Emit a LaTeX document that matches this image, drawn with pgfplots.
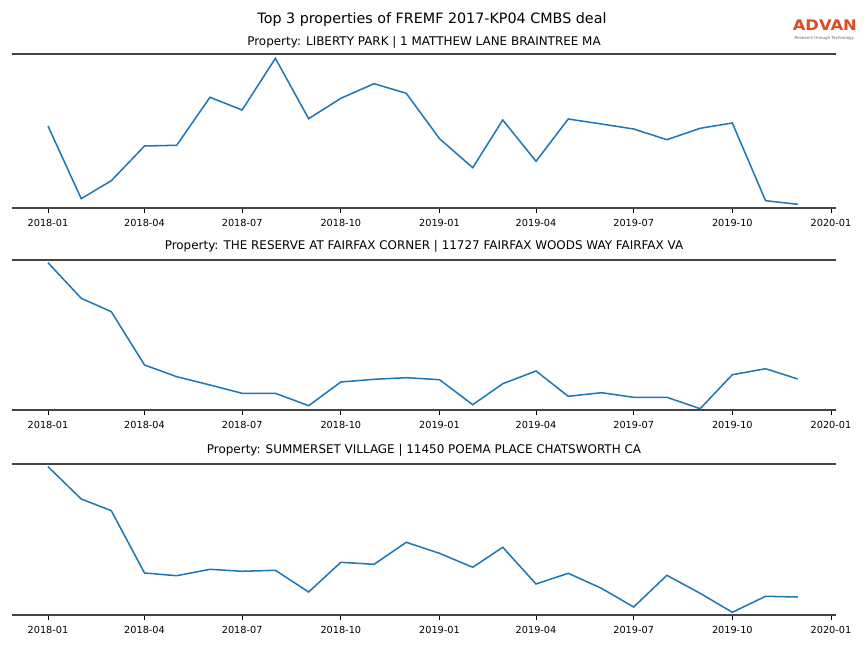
\documentclass[border=0pt]{standalone}
\usepackage{pgfplots}
\pgfplotsset{compat=1.18}
\usepackage{fontspec}
\setmainfont{DejaVu Sans}
\definecolor{mplblue}{HTML}{1F77B4}
\definecolor{spine}{HTML}{444444}
\definecolor{advan}{HTML}{E04A22}

% one pixel of the reference = 0.72pt
\pgfplotsset{
  panel/.style={
    scale only axis,
    width=593.28pt,
    xmin=-33.56, xmax=734.66,
    axis x line*=bottom,
    axis y line=none,
    x axis line style={draw=spine, line width=1.3pt},
    xtick={0,90,181,273,365,455,546,638,730},
    xticklabels={2018-01,2018-04,2018-07,2018-10,2019-01,2019-04,2019-07,2019-10,2020-01},
    tick align=outside,
    major tick length=3.5pt,
    xtick style={draw=black, line width=0.6pt},
    ticklabel style={font=\fontsize{7}{8}\selectfont},
    xticklabel style={yshift=-1pt},
    clip=false,
  },
}
\tikzset{spinetop/.style={draw=spine, line width=1.3pt}}

\begin{document}
\begin{tikzpicture}
\useasboundingbox (0,0) rectangle (622.08pt,466.56pt);

\node[font=\fontsize{10.3}{12}\selectfont] at (311.04pt,452.16pt) {Top 3 properties of FREMF 2017-KP04 CMBS deal};

\node[font=\fontsize{10.5}{12}\selectfont\bfseries, text=advan, inner sep=0pt, xscale=1.12] at (593.9pt,448.2pt) {ADVAN};
\node[font=\fontsize{2.9}{3}\selectfont, text=black!60, inner sep=0pt] at (593.6pt,438.6pt) {Research through Technology};

\node[font=\fontsize{8.6}{10}\selectfont] at (305.28pt,436.32pt) {Property: LIBERTY PARK | 1 MATTHEW LANE BRAINTREE MA};
\node[font=\fontsize{8.6}{10}\selectfont] at (305.28pt,289.44pt) {Property: THE RESERVE AT FAIRFAX CORNER | 11727 FAIRFAX WOODS WAY FAIRFAX VA};
\node[font=\fontsize{8.6}{10}\selectfont] at (305.28pt,142.56pt) {Property: SUMMERSET VILLAGE | 11450 POEMA PLACE CHATSWORTH CA};

% panel 1
\begin{axis}[panel, at={(8.64pt,316.8pt)}, anchor=south west,
  height=110.88pt, ymin=-208, ymax=-54]
\addplot[mplblue, line width=1.1pt] coordinates {
(0,-126) (31,-198.7) (59,-180.7) (90,-146) (120,-145.3) (151,-97.3)
(181,-110) (212,-58.3) (243,-118.7) (273,-98.3) (304,-83.7) (334,-93.3)
(365,-138.7) (396,-167.7) (424,-120) (455,-161.3) (485,-119) (516,-124)
(546,-129) (577,-139.7) (608,-128.3) (638,-123) (669,-200.7) (699,-204.3)
};
\draw[spinetop] (rel axis cs:0,1) -- (rel axis cs:1,1);
\end{axis}

% panel 2
\begin{axis}[panel, at={(8.64pt,171.36pt)}, anchor=south west,
  height=108pt, ymin=-410, ymax=-260]
\addplot[mplblue, line width=1.1pt] coordinates {
(0,-262.7) (31,-298.3) (59,-311.7) (90,-365) (120,-376.7) (151,-385)
(181,-393.3) (212,-393.3) (243,-405.7) (273,-382) (304,-379.3) (334,-377.7)
(365,-379.7) (396,-404.7) (424,-383.7) (455,-371) (485,-396.3) (516,-392.7)
(546,-397.3) (577,-397.3) (608,-408.7) (638,-374.7) (669,-368.7) (699,-379)
};
\draw[spinetop] (rel axis cs:0,1) -- (rel axis cs:1,1);
\end{axis}

% panel 3
\begin{axis}[panel, at={(8.64pt,23.76pt)}, anchor=south west,
  height=108.72pt, ymin=-615, ymax=-464]
\addplot[mplblue, line width=1.1pt] coordinates {
(0,-466.7) (31,-499) (59,-510.7) (90,-573) (120,-575.7) (151,-569.3)
(181,-571.3) (212,-570.3) (243,-592) (273,-562.3) (304,-564.3) (334,-542.3)
(365,-553.3) (396,-567.3) (424,-547.3) (455,-584) (485,-573.3) (516,-588.3)
(546,-607) (577,-575.3) (608,-593.3) (638,-612.3) (669,-596.3) (699,-597)
};
\draw[spinetop] (rel axis cs:0,1) -- (rel axis cs:1,1);
\end{axis}
\end{tikzpicture}
\end{document}
